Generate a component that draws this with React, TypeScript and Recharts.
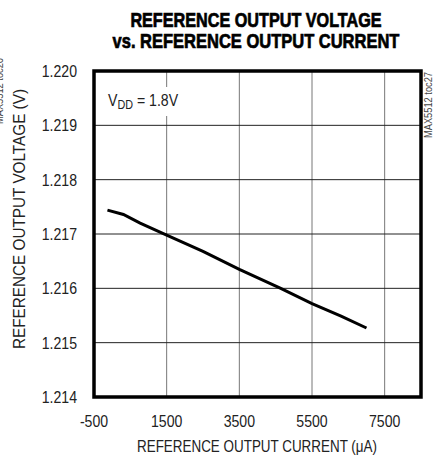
import React from 'react';
import {
  LineChart, Line, XAxis, YAxis, CartesianGrid, ReferenceArea, Customized
} from 'recharts';

// values
const currentUA = [-130, 310, 770, 1500, 2500, 3500, 4640, 5500, 6300, 7000];
const voltageV = [1.21744, 1.21736, 1.2172, 1.21698, 1.21668, 1.21635, 1.216, 1.21572, 1.21549, 1.21527];

const xTicks = [-500, 1500, 3500, 5500, 7500];
const yTicks = [1.214, 1.215, 1.216, 1.217, 1.218, 1.219, 1.22];

const data = currentUA.map((c, i) => ({ current: c, voltage: voltageV[i] }));

const font = "'Liberation Sans', Arial, sans-serif";
const narrow = 0.83; // squeeze to mimic the condensed face of the original

const XTick = (props: any) => {
  const { x, y, payload } = props;
  return (
    <g transform={`translate(${x},${y}) scale(${narrow},1)`}>
      <text textAnchor="middle" dy="0.71em" fontSize={17} fontFamily={font} fill="#222">
        {payload.value}
      </text>
    </g>
  );
};

const YTick = (props: any) => {
  const { x, y, payload } = props;
  return (
    <g transform={`translate(${x},${y}) scale(${narrow},1)`}>
      <text textAnchor="end" dy="0.355em" fontSize={17} fontFamily={font} fill="#222">
        {Number(payload.value).toFixed(3)}
      </text>
    </g>
  );
};

const Annotations = () => (
  <g fontFamily={font}>
    <g transform="translate(256,27) scale(0.81,1)">
      <text x={0} y={0} textAnchor="middle" fontSize={20} fontWeight="bold" fill="#000"
        stroke="#000" strokeWidth={0.7}>
        REFERENCE OUTPUT VOLTAGE
      </text>
    </g>
    <g transform="translate(256,48) scale(0.825,1)">
      <text x={0} y={0} textAnchor="middle" fontSize={20} fontWeight="bold" fill="#000"
        stroke="#000" strokeWidth={0.7}>
        vs. REFERENCE OUTPUT CURRENT
      </text>
    </g>
    <rect x={103} y={87} width={86} height={29} fill="#fff" />
    <g transform={`translate(108,106) scale(${narrow},1)`}>
      <text x={0} y={0} fontSize={17} fill="#222">
        V<tspan fontSize={13} dy={3}>DD</tspan><tspan dy={-3}> = 1.8V</tspan>
      </text>
    </g>
    <text x={257} y={452} textAnchor="middle" fontSize={17} fill="#222"
      textLength={240} lengthAdjust="spacingAndGlyphs">
      REFERENCE OUTPUT CURRENT (μA)
    </text>
    <text x={25} y={219} textAnchor="middle" fontSize={17} fill="#222"
      textLength={260} lengthAdjust="spacingAndGlyphs" transform="rotate(-90, 25, 219)">
      REFERENCE OUTPUT VOLTAGE (V)
    </text>
    <text x={432} y={138} fontSize={10} fill="#444"
      textLength={66} lengthAdjust="spacingAndGlyphs" transform="rotate(-90, 432, 138)">
      MAX5512 toc27
    </text>
    <text x={3} y={124} fontSize={10} fill="#444"
      textLength={66} lengthAdjust="spacingAndGlyphs" transform="rotate(-90, 3, 124)">
      MAX5512 toc26
    </text>
  </g>
);

export default function App() {
  return (
    <div style={{ position: 'absolute', left: 0, top: 0, background: '#fff' }}>
      <LineChart
        width={440}
        height={455}
        data={data}
        margin={{ top: 71, right: 19, bottom: 0, left: 34 }}
      >
        <CartesianGrid horizontal={false} stroke="#777" strokeWidth={1} />
        <CartesianGrid vertical={false} stroke="#222" strokeWidth={1} />
        <XAxis
          type="number"
          dataKey="current"
          domain={[-500, 8500]}
          ticks={xTicks}
          height={58}
          tickLine={false}
          axisLine={false}
          tickMargin={12}
          tick={<XTick />}
        />
        <YAxis
          type="number"
          domain={[1.214, 1.22]}
          ticks={yTicks}
          width={60}
          tickLine={false}
          axisLine={false}
          tickMargin={11}
          tick={<YTick />}
        />
        <Line
          type="linear"
          dataKey="voltage"
          stroke="#000"
          strokeWidth={3}
          dot={false}
          isAnimationActive={false}
        />
        <ReferenceArea
          x1={-500}
          x2={8500}
          y1={1.214}
          y2={1.22}
          fill="none"
          stroke="#000"
          strokeWidth={3.5}
          ifOverflow="visible"
        />
        <Customized component={Annotations} />
      </LineChart>
    </div>
  );
}
